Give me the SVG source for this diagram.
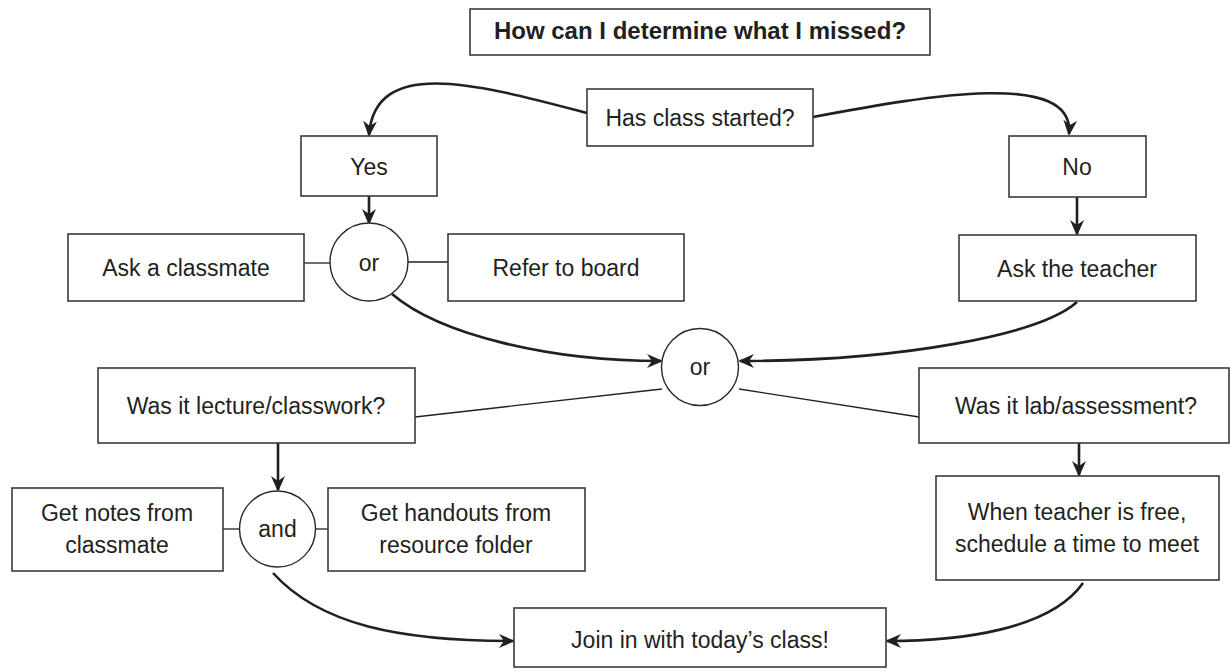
<svg xmlns="http://www.w3.org/2000/svg" width="1230" height="669" viewBox="0 0 1230 669">
<style>
  .box { fill: #ffffff; stroke: #3a3a3a; stroke-width: 1.6; }
  .circ { fill: #ffffff; stroke: #2a2a2a; stroke-width: 1.4; }
  .t { font-family: "Liberation Sans", Arial, sans-serif; font-size: 23px; fill: #231f20; text-anchor: middle; }
  .title { font-family: "Liberation Sans", Arial, sans-serif; font-size: 24px; font-weight: bold; fill: #231f20; text-anchor: middle; }
  .arrow { fill: none; stroke: #231f20; stroke-width: 2.6; marker-end: url(#ah); }
  .thin { fill: none; stroke: #231f20; stroke-width: 1.3; }
</style>
<defs>
  <marker id="ah" markerUnits="userSpaceOnUse" markerWidth="18" markerHeight="14" refX="14" refY="7" orient="auto">
    <path d="M0,0 L16,7 L0,14 L5,7 Z" fill="#231f20"/>
  </marker>
</defs>
<rect width="1230" height="669" fill="#ffffff"/>

<g id="connectors">
  <path class="arrow" d="M587,113 C480,85 375,55 369,135"/>
  <path class="arrow" d="M813,117 C930,95 1075,70 1069,134"/>
  <path class="arrow" d="M369,196 L369,223"/>
  <path class="arrow" d="M1077,197 L1077,234"/>
  <line class="thin" x1="304" y1="263" x2="330" y2="263"/>
  <line class="thin" x1="408" y1="262" x2="448" y2="262"/>
  <path class="arrow" d="M392,294 C440,335 550,361 661,361"/>
  <path class="arrow" d="M1077,302 C1040,335 900,361 740,361"/>
  <line class="thin" x1="415" y1="417" x2="662" y2="389"/>
  <line class="thin" x1="739" y1="389" x2="919" y2="417"/>
  <path class="arrow" d="M278,443 L278,490"/>
  <path class="arrow" d="M1079,443 L1079,475"/>
  <line class="thin" x1="223" y1="529" x2="240" y2="529"/>
  <line class="thin" x1="315" y1="529" x2="328" y2="529"/>
  <path class="arrow" d="M273,573 C320,625 400,641 513,641"/>
  <path class="arrow" d="M1083,583 C1050,630 960,641 887,641"/>
</g>

<g id="title">
  <rect class="box" x="470" y="9" width="460" height="46"/>
  <text class="title" x="700" y="39">How can I determine what I missed?</text>
</g>
<g id="has-class-started">
  <rect class="box" x="587" y="89" width="226" height="57"/>
  <text class="t" x="700" y="126">Has class started?</text>
</g>
<g id="yes">
  <rect class="box" x="301" y="136" width="136" height="60"/>
  <text class="t" x="369" y="175">Yes</text>
</g>
<g id="no">
  <rect class="box" x="1009" y="136" width="137" height="61"/>
  <text class="t" x="1077" y="175">No</text>
</g>
<g id="ask-classmate">
  <rect class="box" x="68" y="234" width="236" height="67"/>
  <text class="t" x="186" y="276">Ask a classmate</text>
</g>
<g id="or-1">
  <circle class="circ" cx="369" cy="262" r="39"/>
  <text class="t" x="369" y="271">or</text>
</g>
<g id="refer-board">
  <rect class="box" x="448" y="234" width="236" height="67"/>
  <text class="t" x="566" y="276">Refer to board</text>
</g>
<g id="ask-teacher">
  <rect class="box" x="959" y="235" width="237" height="66"/>
  <text class="t" x="1077" y="277">Ask the teacher</text>
</g>
<g id="or-2">
  <circle class="circ" cx="700" cy="367" r="38.5"/>
  <text class="t" x="700" y="375">or</text>
</g>
<g id="lecture">
  <rect class="box" x="98" y="368" width="317" height="75"/>
  <text class="t" x="256" y="414">Was it lecture/classwork?</text>
</g>
<g id="lab">
  <rect class="box" x="919" y="368" width="310" height="75"/>
  <text class="t" x="1076" y="414">Was it lab/assessment?</text>
</g>
<g id="notes">
  <rect class="box" x="12" y="488" width="211" height="83"/>
  <text class="t" x="117" y="521">Get notes from</text>
  <text class="t" x="117" y="553">classmate</text>
</g>
<g id="and">
  <circle class="circ" cx="277.5" cy="529" r="38"/>
  <text class="t" x="277.5" y="537">and</text>
</g>
<g id="handouts">
  <rect class="box" x="328" y="488" width="257" height="83"/>
  <text class="t" x="456" y="521">Get handouts from</text>
  <text class="t" x="456" y="553">resource folder</text>
</g>
<g id="schedule">
  <rect class="box" x="936" y="476" width="283" height="104"/>
  <text class="t" x="1077" y="520">When teacher is free,</text>
  <text class="t" x="1077" y="552">schedule a time to meet</text>
</g>
<g id="join">
  <rect class="box" x="514" y="608" width="372" height="59"/>
  <text class="t" x="700" y="648">Join in with today’s class!</text>
</g>
</svg>
